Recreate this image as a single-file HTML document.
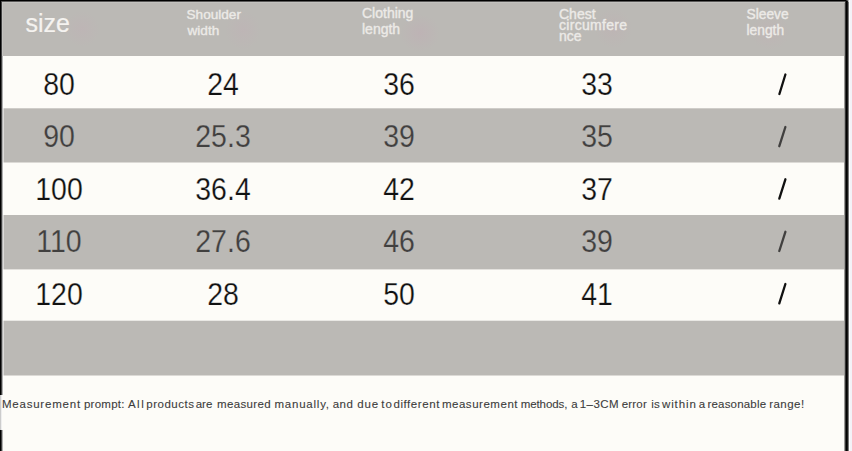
<!DOCTYPE html>
<html><head><meta charset="utf-8">
<style>
html,body{margin:0;padding:0;}
body{width:852px;height:451px;position:relative;overflow:hidden;background:#fdfcf8;font-family:"Liberation Sans", sans-serif;}
.a{position:absolute;}
.g{background:#bbb9b5;}
.w{background:#fdfcf8;}
.t{position:absolute;white-space:nowrap;line-height:1;}
.d{font-size:32px;color:#111;transform:scaleX(0.89);-webkit-text-stroke:0.25px #fdfcf8;}
.dg{font-size:32px;color:#41403f;transform:scaleX(0.89);-webkit-text-stroke:0.25px #bbb9b5;}
.h{font-size:14px;color:#efedea;-webkit-text-stroke:0.4px #e9e7e4;}
</style></head><body>
<!-- rows -->
<div class="a g" style="left:0;top:0;width:852px;height:56px"></div>
<div class="a w" style="left:0;top:56px;width:852px;height:52px"></div>
<div class="a" style="left:0;top:108px;width:852px;height:1px;background:#cfcdc9"></div>
<div class="a g" style="left:0;top:109px;width:852px;height:53px"></div>
<div class="a" style="left:0;top:162px;width:852px;height:1px;background:#dcdad6"></div>
<div class="a w" style="left:0;top:163px;width:852px;height:52px"></div>
<div class="a g" style="left:0;top:215px;width:852px;height:54px"></div>
<div class="a" style="left:0;top:269px;width:852px;height:1px;background:#e3e1dd"></div>
<div class="a w" style="left:0;top:270px;width:852px;height:50px"></div>
<div class="a" style="left:0;top:320px;width:852px;height:1px;background:#e9e8e4"></div>
<div class="a g" style="left:0;top:321px;width:852px;height:54px"></div>
<div class="a" style="left:0;top:375px;width:852px;height:1px;background:#dcdad6"></div>
<div class="a w" style="left:0;top:376px;width:852px;height:75px"></div>

<!-- borders -->
<div class="a" style="left:0;top:0;width:846px;height:1px;background:#000"></div>
<div class="a" style="left:1px;top:1px;width:845px;height:1px;background:#5a5958"></div>
<div class="a" style="left:2px;top:2px;width:842px;height:1px;background:#c3c2bf"></div>
<div class="a" style="left:0;top:0;width:1px;height:395px;background:#000"></div>
<div class="a" style="left:1px;top:1px;width:1px;height:394px;background:#444"></div>
<div class="a" style="left:2px;top:2px;width:1px;height:54px;background:#c3c2bf"></div>
<div class="a" style="left:2px;top:56px;width:1px;height:339px;background:#b0b0b0"></div>
<div class="a" style="left:3px;top:56px;width:1px;height:339px;background:#fff;opacity:.5"></div>
<div class="a" style="left:0;top:395px;width:1px;height:35px;background:#ccc"></div>
<div class="a" style="left:1px;top:395px;width:1px;height:35px;background:#eee"></div>
<div class="a" style="left:0;top:430px;width:1px;height:21px;background:#000"></div>
<div class="a" style="left:1px;top:430px;width:1px;height:21px;background:#444"></div>
<div class="a" style="left:2px;top:430px;width:1px;height:21px;background:#b0b0b0"></div>
<div class="a" style="left:844px;top:3px;width:1px;height:448px;background:#9a9996"></div>
<div class="a" style="left:845px;top:1px;width:1px;height:450px;background:#333"></div>
<div class="a" style="left:846px;top:0;width:1px;height:451px;background:#000;border-top-right-radius:1px"></div>
<div class="a" style="left:847px;top:1px;width:1px;height:450px;background:#1a1a1a"></div>
<div class="a" style="left:848px;top:2px;width:1px;height:449px;background:#777"></div>
<div class="a" style="left:849px;top:0;width:1px;height:451px;background:#fff"></div>
<div class="a" style="left:847px;top:0;width:1px;height:1px;background:#666"></div>
<div class="a" style="left:848px;top:0;width:1px;height:2px;background:#bbb"></div>
<div class="a" style="left:850px;top:0;width:2px;height:451px;background:#f3f2f7"></div>
<!-- header -->
<div class="a" style="left:64px;top:11px;width:36px;height:36px;background:radial-gradient(closest-side,rgba(195,172,182,.3),rgba(200,165,175,0))"></div>
<div class="a" style="left:225px;top:10px;width:36px;height:40px;background:radial-gradient(closest-side,rgba(195,172,182,.3),rgba(200,165,175,0))"></div>
<div class="a" style="left:400px;top:14px;width:40px;height:38px;background:radial-gradient(closest-side,rgba(195,165,180,.3),rgba(195,165,180,0))"></div>
<div class="a" style="left:594px;top:8px;width:38px;height:40px;background:radial-gradient(closest-side,rgba(195,170,178,.3),rgba(200,165,170,0))"></div>
<div class="a" style="left:750px;top:14px;width:40px;height:36px;background:radial-gradient(closest-side,rgba(200,170,180,.25),rgba(200,170,180,0))"></div>
<div class="t" style="left:25.5px;top:11px;font-size:25px;color:#f5f3f0;-webkit-text-stroke:0.2px #f5f3f0">size</div>
<div class="t h" style="left:186.5px;top:6.5px;line-height:16px;font-size:13.6px">Shoulder<br><span style="padding-left:1px">width</span></div>
<div class="t h" style="left:362px;top:5px;line-height:16px">Clothing<br>length</div>
<div class="t h" style="left:559px;top:9px;line-height:11px">Chest<br><span style="letter-spacing:.3px">circumfere</span><br>nce</div>
<div class="t h" style="left:746.5px;top:6.5px;line-height:16px;font-size:13.8px">Sleeve<br>length</div>

<!-- data -->
<div class="t d" style="left:9px;width:100px;text-align:center;top:68px">80</div>
<div class="t d" style="left:173px;width:100px;text-align:center;top:68px">24</div>
<div class="t d" style="left:349px;width:100px;text-align:center;top:68px">36</div>
<div class="t d" style="left:547px;width:100px;text-align:center;top:68px">33</div>

<div class="t dg" style="left:9px;width:100px;text-align:center;top:120px">90</div>
<div class="t dg" style="left:173px;width:100px;text-align:center;top:120px">25.3</div>
<div class="t dg" style="left:349px;width:100px;text-align:center;top:120px">39</div>
<div class="t dg" style="left:547px;width:100px;text-align:center;top:120px">35</div>

<div class="t d" style="left:9px;width:100px;text-align:center;top:173px">100</div>
<div class="t d" style="left:173px;width:100px;text-align:center;top:173px">36.4</div>
<div class="t d" style="left:349px;width:100px;text-align:center;top:173px">42</div>
<div class="t d" style="left:547px;width:100px;text-align:center;top:173px">37</div>

<div class="t dg" style="left:9px;width:100px;text-align:center;top:225px">110</div>
<div class="t dg" style="left:173px;width:100px;text-align:center;top:225px">27.6</div>
<div class="t dg" style="left:349px;width:100px;text-align:center;top:225px">46</div>
<div class="t dg" style="left:547px;width:100px;text-align:center;top:225px">39</div>

<div class="t d" style="left:9px;width:100px;text-align:center;top:278px">120</div>
<div class="t d" style="left:173px;width:100px;text-align:center;top:278px">28</div>
<div class="t d" style="left:349px;width:100px;text-align:center;top:278px">50</div>
<div class="t d" style="left:547px;width:100px;text-align:center;top:278px">41</div>

<svg class="a" style="left:0;top:0" width="852" height="451" viewBox="0 0 852 451">
<g stroke-linecap="round" stroke-width="2.3" fill="none">
<line x1="785.4" y1="74.5" x2="779.4" y2="94" stroke="#111"/>
<line x1="785.4" y1="127" x2="779.3" y2="146.2" stroke="#41403f"/>
<line x1="785.4" y1="179.3" x2="779.3" y2="198.6" stroke="#111"/>
<line x1="785.4" y1="231.8" x2="779.3" y2="251" stroke="#41403f"/>
<line x1="785.4" y1="284" x2="779.3" y2="303.4" stroke="#111"/>
</g></svg>
<!-- footer -->
<div class="a" style="left:0;top:398.5px;width:852px;height:14px;font-size:11.5px;color:#3c3c3c;line-height:1;-webkit-text-stroke:0.1px #3c3c3c">
<span class="t" style="left:1.9px;top:0;letter-spacing:0.79px">Measurement</span>
<span class="t" style="left:83.9px;top:0;letter-spacing:0.27px">prompt:</span>
<span class="t" style="left:127.9px;top:0;letter-spacing:1.54px">All</span>
<span class="t" style="left:146.3px;top:0;letter-spacing:0.51px">products</span>
<span class="t" style="left:195.7px;top:0;letter-spacing:0.04px">are</span>
<span class="t" style="left:217.1px;top:0;letter-spacing:0.33px">measured</span>
<span class="t" style="left:274.5px;top:0;letter-spacing:0.77px">manually,</span>
<span class="t" style="left:332.7px;top:0;letter-spacing:0.49px">and</span>
<span class="t" style="left:357.3px;top:0;letter-spacing:0.89px">due</span>
<span class="t" style="left:381.2px;top:0;letter-spacing:1.24px">to</span>
<span class="t" style="left:393.5px;top:0;letter-spacing:0.56px">different</span>
<span class="t" style="left:441.9px;top:0;letter-spacing:0.53px">measurement</span>
<span class="t" style="left:520.7px;top:0;letter-spacing:-0.09px">methods,</span>
<span class="t" style="left:571.2px;top:0;letter-spacing:0.34px">a</span>
<span class="t" style="left:579.7px;top:0;letter-spacing:0.47px">1–3CM</span>
<span class="t" style="left:621.7px;top:0;letter-spacing:0.19px">error</span>
<span class="t" style="left:651.2px;top:0;letter-spacing:0.34px">is</span>
<span class="t" style="left:662.0px;top:0;letter-spacing:0.88px">within</span>
<span class="t" style="left:698.7px;top:0;letter-spacing:0.34px">a</span>
<span class="t" style="left:707.5px;top:0;letter-spacing:0.18px">reasonable</span>
<span class="t" style="left:769.2px;top:0;letter-spacing:0.48px">range!</span>
</div>
</body></html>
